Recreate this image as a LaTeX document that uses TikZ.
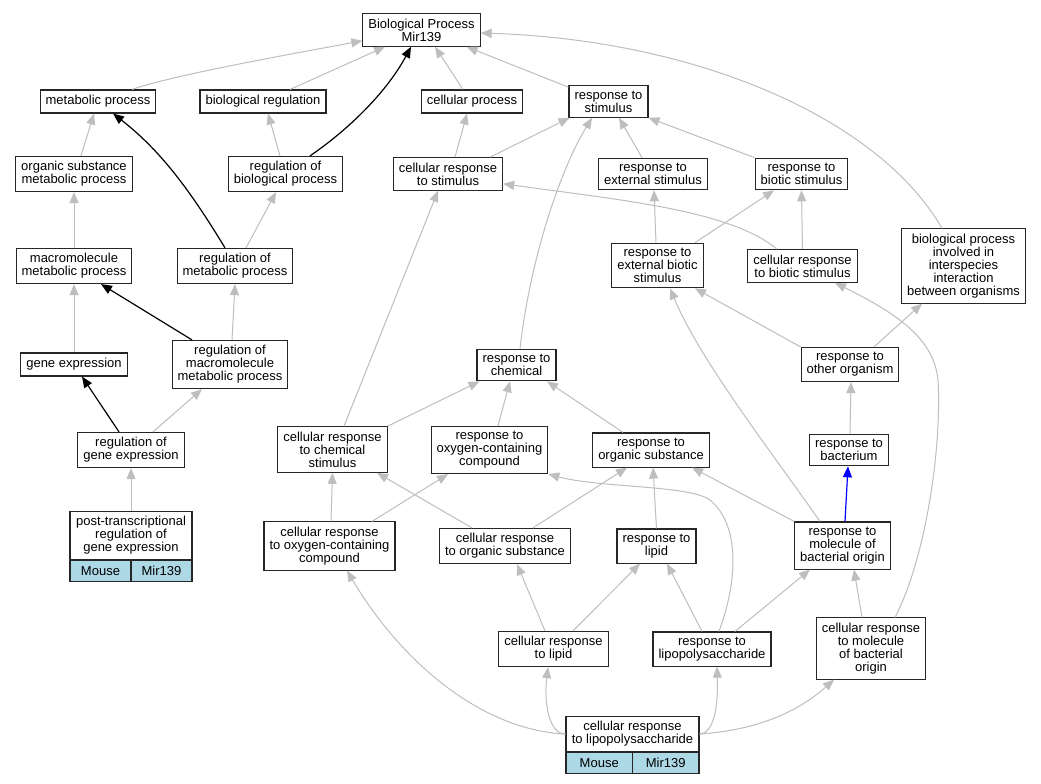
\documentclass[tikz,border=0pt]{standalone}
\usepackage{fontspec}
\setmainfont{Liberation Sans}
\usetikzlibrary{arrows.meta,calc}
\definecolor{linkgray}{RGB}{190,190,190}
\definecolor{lightblue}{RGB}{173,216,230}
\tikzset{term/.style = {draw=black!85, fill=white, line width=1.1pt, rectangle, align=center, inner xsep=5.5pt, inner ysep=5pt, minimum height=23pt, font=\fontsize{13pt}{13pt}\selectfont},
         cell/.style = {draw=black!85, fill=lightblue, line width=1.1pt, rectangle, inner sep=0pt, minimum height=21pt, font=\fontsize{13pt}{13pt}\selectfont},
         link/.style = {draw=linkgray, line width=1pt, -{Triangle[length=11pt,width=9pt]}},
         strong/.style = {draw=black, line width=1.2pt, -{Triangle[length=11pt,width=9pt]}},
         bluelink/.style = {draw=blue, line width=1.2pt, -{Triangle[length=11pt,width=9pt]}}}

\begin{document}
\begin{tikzpicture}[x=1pt,y=-1pt]
        \fill[white](0,0)rectangle(1041,784);
        \useasboundingbox(0,0)rectangle(1041,784);
        % terms
        \node[term](bp)at(421.5,30){Biological Process\\Mir139};
        \node[term](mp)at(98,101.5){metabolic process};
        \node[term](breg)at(263,101.5){biological regulation};
        \node[term](cp)at(472,101.5){cellular process};
        \node[term](rs)at(608.5,101.5){response to\\stimulus};
        \node[term](osmp)at(74,174){organic substance\\metabolic process};
        \node[term](rbp)at(285.5,174){regulation of\\biological process};
        \node[term](crs)at(448,174){cellular response\\to stimulus};
        \node[term](res)at(653,174){response to\\external stimulus};
        \node[term](rbs)at(801.5,174){response to\\biotic stimulus};
        \node[term](mmp)at(74,266){macromolecule\\metabolic process};
        \node[term](rmp)at(235,266){regulation of\\metabolic process};
        \node[term](rebs)at(657.5,265.5){response to\\external biotic\\stimulus};
        \node[term](crbs)at(802.5,266){cellular response\\to biotic stimulus};
        \node[term](bpii)at(963.5,266){biological process\\involved in\\interspecies\\interaction\\between organisms};
        \node[term](ge)at(74,364.5){gene expression};
        \node[term](rmmp)at(230,364.5){regulation of\\macromolecule\\metabolic process};
        \node[term](rc)at(516.5,365){response to\\chemical};
        \node[term](roo)at(850,364.5){response to\\other organism};
        \node[term](rge)at(131,450){regulation of\\gene expression};
        \node[term](crcs)at(332.5,449.5){cellular response\\to chemical\\stimulus};
        \node[term](rocc)at(489.5,450){response to\\oxygen-containing\\compound};
        \node[term](ros)at(651,450){response to\\organic substance};
        \node[term](rb)at(849,450){response to\\bacterium};
        \node[term,minimum width=122pt](ptr)at(131,535.5){post-transcriptional\\regulation of\\gene expression};
        \node[term](crocc)at(329.5,546){cellular response\\to oxygen-containing\\compound};
        \node[term](cros)at(505,546){cellular response\\to organic substance};
        \node[term](rl)at(656.5,546){response to\\lipid};
        \node[term](rmbo)at(842.5,545.5){response to\\molecule of\\bacterial origin};
        \node[term](crl)at(553.5,649){cellular response\\to lipid};
        \node[term](rlps)at(712,649){response to\\lipopolysaccharide};
        \node[term](crmbo)at(871,648.5){cellular response\\to molecule\\of bacterial\\origin};
        \node[term,minimum width=133pt](crlps)at(632.5,734){cellular response\\to lipopolysaccharide};
        % annotation cells
        \node[cell,minimum width=61pt,anchor=north west](ptrmouse)at(ptr.south west){Mouse};
        \node[cell,minimum width=61pt,anchor=north east](ptrmir)at(ptr.south east){Mir139};
        \node[cell,minimum width=66.5pt,anchor=north west](crlpsmouse)at(crlps.south west){Mouse};
        \node[cell,minimum width=66.5pt,anchor=north east](crlpsmir)at(crlps.south east){Mir139};
        % is-a links
        \draw[link]($(mp.north)+(34,0)$).. controls (170,76) and (280,56) ..($(bp.south west)+(0,-6)$);
        \draw[link]($(breg.north)+(27,0)$)--($(bp.south)+(-36.5,0)$);
        \draw[strong]($(rbp.north)+(24.5,0)$).. controls (345,132) and (385,95) ..($(bp.south)+(-10.5,0)$);
        \draw[link]($(cp.north)+(-9,0)$)--($(bp.south)+(13.5,0)$);
        \draw[link]($(rs.north west)+(0,2)$)--($(bp.south east)+(-14,0)$);
        \draw[link]($(bpii.north)+(-21.5,0)$).. controls (880,120) and (700,40) ..($(bp.east)+(0,3)$);
        \draw[link]($(osmp.north)+(7,0)$)--($(mp.south)+(-4,0)$);
        \draw[strong]($(rmp.north)+(-10,0)$).. controls (190,190) and (160,150) ..($(mp.south)+(15,0)$);
        \draw[link]($(rbp.north)+(-5.5,0)$)--($(breg.south)+(5,0)$);
        \draw[link]($(rmp.north)+(11,0)$)--($(rbp.south)+(-9.5,0)$);
        \draw[link]($(crs.north)+(7,0)$)--($(cp.south)+(-5,0)$);
        \draw[link]($(crs.north)+(42,0)$)--($(rs.south west)+(1,0)$);
        \draw[link]($(res.north)+(-11,0)$)--($(rs.south)+(10.5,0)$);
        \draw[link](rbs.north west)--(rs.south east);
        \draw[link](mmp.north)--(osmp.south);
        \draw[link]($(rebs.north)+(-1.5,0)$)--($(res.south)+(1,0)$);
        \draw[link]($(rebs.north)+(37.5,0)$)--($(rbs.south)+(-27.5,0)$);
        \draw[link](crbs.north)--(rbs.south);
        \draw[link]($(crbs.north)+(-25.5,0)$).. controls (730,210) and (620,200) ..($(crs.south east)+(0,-7)$);
        \draw[link](ge.north)--(mmp.south);
        \draw[strong]($(rmmp.north)+(-38,0)$)--($(mmp.south)+(27,0)$);
        \draw[link]($(rmmp.north)+(2,0)$)--(rmp.south);
        \draw[strong]($(rge.north)+(-12,0)$)--($(ge.south)+(8,0)$);
        \draw[link]($(rge.north)+(22,0)$)--($(rmmp.south)+(-28,0)$);
        \draw[link](ptr.north)--(rge.south);
        \draw[link]($(rc.north)+(3.5,0)$).. controls (530,260) and (560,170) ..($(rs.south)+(-16.5,0)$);
        \draw[link]($(crcs.north)+(11.5,0)$)--($(crs.south)+(-10,0)$);
        \draw[link](crcs.north east)--($(rc.south west)+(3,0)$);
        \draw[link]($(rocc.north)+(8.5,0)$)--($(rc.south)+(-6.5,0)$);
        \draw[link]($(ros.north)+(-28,0)$)--($(rc.south)+(30.5,0)$);
        \draw[link](roo.north west)--($(rebs.south)+(37.5,0)$);
        \draw[link]($(roo.north)+(24,0)$)--($(bpii.south)+(-41.5,0)$);
        \draw[link]($(rmbo.north)+(-22.5,0)$).. controls (770,450) and (700,360) ..($(rebs.south)+(12.5,0)$);
        \draw[link]($(crmbo.north)+(24,0)$).. controls (925,560) and (942,450) ..(938,380).. controls (934,340) and (900,315) ..($(crbs.south)+(32.5,0)$);
        \draw[link]($(rb.north)+(1,0)$)--($(roo.south)+(1,0)$);
        \draw[bluelink]($(rmbo.north)+(2.5,0)$)--($(rb.south)+(-1,0)$);
        \draw[link]($(crocc.north)+(1.5,0)$)--(crcs.south);
        \draw[link]($(crocc.north)+(42.5,0)$)--($(rocc.south)+(-41.5,0)$);
        \draw[link]($(cros.north)+(-33,0)$)--($(crcs.south)+(44.5,0)$);
        \draw[link]($(cros.north)+(28,0)$)--($(ros.south)+(-24,0)$);
        \draw[link](rl.north)--($(ros.south)+(2,0)$);
        \draw[link](rmbo.north west)--($(ros.south)+(41,0)$);
        \draw[link]($(rlps.north)+(7,0)$).. controls (738,580) and (740,525) ..(710,500).. controls (690,485) and (600,488) ..(rocc.south east);
        \draw[link]($(rlps.north)+(-10,0)$)--($(rl.south)+(10.5,0)$);
        \draw[link]($(rlps.north)+(23,0)$)--($(rmbo.south)+(-32.5,0)$);
        \draw[link]($(crl.north)+(-8.5,0)$)--($(cros.south)+(12,0)$);
        \draw[link]($(crl.north)+(19.5,0)$)--($(rl.south)+(-16.5,0)$);
        \draw[link]($(crmbo.north)+(-9,0)$)--($(rmbo.south)+(11.5,0)$);
        \draw[link](crlps.west).. controls (480,730) and (400,660) ..($(crocc.south)+(17.5,0)$);
        \draw[link](crlps.west).. controls (548,734) and (544,700) ..($(crl.south)+(-5.5,0)$);
        \draw[link](crlps.east).. controls (716,733) and (718,700) ..($(rlps.south)+(5,0)$);
        \draw[link](crlps.east).. controls (760,730) and (800,710) ..($(crmbo.south)+(-37,0)$);
    \end{tikzpicture}
\end{document}
